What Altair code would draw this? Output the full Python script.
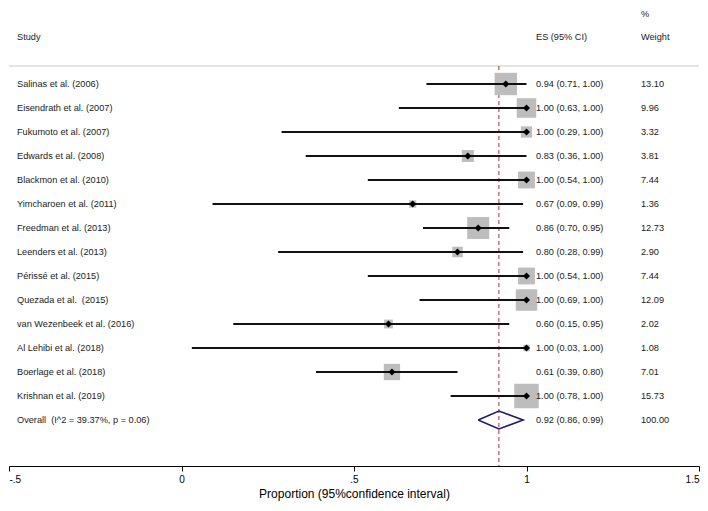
import altair as alt
import pandas as pd

studies = ["Salinas et al. (2006)", "Eisendrath et al. (2007)", "Fukumoto et al. (2007)",
           "Edwards et al. (2008)", "Blackmon et al. (2010)", "Yimcharoen et al. (2011)",
           "Freedman et al. (2013)", "Leenders et al. (2013)", "Périssé et al. (2015)",
           "Quezada et al.\u00a0 (2015)", "van Wezenbeek et al. (2016)", "Al Lehibi et al. (2018)",
           "Boerlage et al. (2018)", "Krishnan et al. (2019)"]
es = [0.94, 1.00, 1.00, 0.83, 1.00, 0.67, 0.86, 0.80, 1.00, 1.00, 0.60, 1.00, 0.61, 1.00]
lo = [0.71, 0.63, 0.29, 0.36, 0.54, 0.09, 0.70, 0.28, 0.54, 0.69, 0.15, 0.03, 0.39, 0.78]
hi = [1.00, 1.00, 1.00, 1.00, 1.00, 0.99, 0.95, 0.99, 1.00, 1.00, 0.95, 1.00, 0.80, 1.00]
weights = [13.10, 9.96, 3.32, 3.81, 7.44, 1.36, 12.73, 2.90, 7.44, 12.09, 2.02, 1.08, 7.01, 15.73]

overall_label = "Overall\u00a0 (I^2 = 39.37%, p = 0.06)"
overall_es, overall_lo, overall_hi, overall_w = 0.92, 0.86, 0.99, 100.00

tick_vals = [-0.5, 0, 0.5, 1, 1.5]
tick_text = ["-.5", "0", ".5", "1", "1.5"]
x_title = "Proportion (95%confidence interval)"

FONT = "Arial, Liberation Sans"
W, H = 690, 458
n = len(studies)

df = pd.DataFrame({"study": studies, "es": es, "lo": lo, "hi": hi, "w": weights, "row": list(range(n))})
df["es_txt"] = [f"{a:.2f} ({b:.2f}, {c:.2f})" for a, b, c in zip(es, lo, hi)]
df["w_txt"] = [f"{w:.2f}" for w in weights]

ov = pd.DataFrame({"study": [overall_label], "row": [n],
                   "es_txt": [f"{overall_es:.2f} ({overall_lo:.2f}, {overall_hi:.2f})"],
                   "w_txt": [f"{overall_w:.2f}"]})
labels_df = pd.concat([df[["study", "row", "es_txt", "w_txt"]], ov], ignore_index=True)

half = 0.37
diamond = pd.DataFrame({"x": [overall_lo, overall_es, overall_hi, overall_es, overall_lo],
                        "row": [n, n - half, n, n + half, n],
                        "ord": [0, 1, 2, 3, 4]})

ydom = [-76 / 24, (H - 76) / 24]
xscale = alt.Scale(domain=[tick_vals[0], tick_vals[-1]], nice=False, zero=False)
yscale = alt.Scale(domain=ydom, reverse=True, nice=False, zero=False)

label_expr = " : ".join(f"datum.value == {v} ? '{t}'" for v, t in zip(tick_vals, tick_text)) + " : ''"
xaxis = alt.Axis(values=tick_vals, labelExpr=label_expr, title=x_title, grid=False,
                 domainColor="#000", tickColor="#000", tickSize=5, labelPadding=3,
                 labelFontSize=10, labelColor="#000", labelFont=FONT,
                 labelAlign={"condition": [{"test": "datum.value < -0.4", "value": "left"},
                                           {"test": "datum.value > 1.4", "value": "right"}],
                             "value": "center"},
                 titleFont=FONT, titleFontSize=12, titleFontWeight="normal", titleColor="#000",
                 titlePadding=4)


def X(field):
    return alt.X(field, type="quantitative", scale=xscale, axis=xaxis)


def Y(field):
    return alt.Y(field, type="quantitative", scale=yscale, axis=None)


header_rule = alt.Chart(pd.DataFrame({"y": [-0.75]})).mark_rule(color="#c8c8c8", strokeWidth=1).encode(
    y=Y("y"), x=alt.value(0), x2=alt.value(W))

ref_line = alt.Chart(pd.DataFrame({"es": [overall_es], "top": [-0.75]})).mark_rule(
    color="#a83232", strokeDash=[4, 3], strokeWidth=1).encode(x=X("es"), y=Y("top"), y2=alt.value(H))

squares = alt.Chart(df).mark_square(color="#bdbdbd", opacity=1, filled=True).encode(
    x=X("es"), y=Y("row"),
    size=alt.Size("w:Q", scale=alt.Scale(domain=[0, 15.73], range=[0, 600], zero=True), legend=None))

ci = alt.Chart(df).mark_rule(color="#111", strokeWidth=2).encode(x=X("lo"), x2="hi", y=Y("row"))

points = alt.Chart(df).mark_point(shape="diamond", filled=True, color="#000", size=50, opacity=1).encode(
    x=X("es"), y=Y("row"))

ov_diamond = alt.Chart(diamond).mark_line(color="#1c1c6b", strokeWidth=1.6).encode(
    x=X("x"), y=Y("row"), order="ord:Q")

txt_kw = dict(align="left", baseline="middle", fontSize=9.2, font=FONT, color="#1a1a1a")
study_txt = alt.Chart(labels_df).mark_text(**txt_kw).encode(x=alt.value(8), y=Y("row"), text="study:N")
es_txt = alt.Chart(labels_df).mark_text(**txt_kw).encode(x=alt.value(527), y=Y("row"), text="es_txt:N")
w_txt = alt.Chart(labels_df).mark_text(**txt_kw).encode(x=alt.value(632), y=Y("row"), text="w_txt:N")

hdr = pd.DataFrame({"a": [0]})
h1 = alt.Chart(hdr).mark_text(text="Study", **txt_kw).encode(x=alt.value(8), y=alt.value(29))
h2 = alt.Chart(hdr).mark_text(text="ES (95% CI)", **txt_kw).encode(x=alt.value(527), y=alt.value(29))
h3 = alt.Chart(hdr).mark_text(text="%", **txt_kw).encode(x=alt.value(632), y=alt.value(6))
h4 = alt.Chart(hdr).mark_text(text="Weight", **txt_kw).encode(x=alt.value(632), y=alt.value(29))

chart = alt.layer(header_rule, ref_line, squares, ci, points, ov_diamond,
                  study_txt, es_txt, w_txt, h1, h2, h3, h4).properties(
    width=W, height=H, background="white",
    padding={"left": 0, "top": 0, "right": 0, "bottom": 7}
).configure_view(stroke=None)

chart.save("out.html", embed_options={"renderer": "svg", "actions": False})
